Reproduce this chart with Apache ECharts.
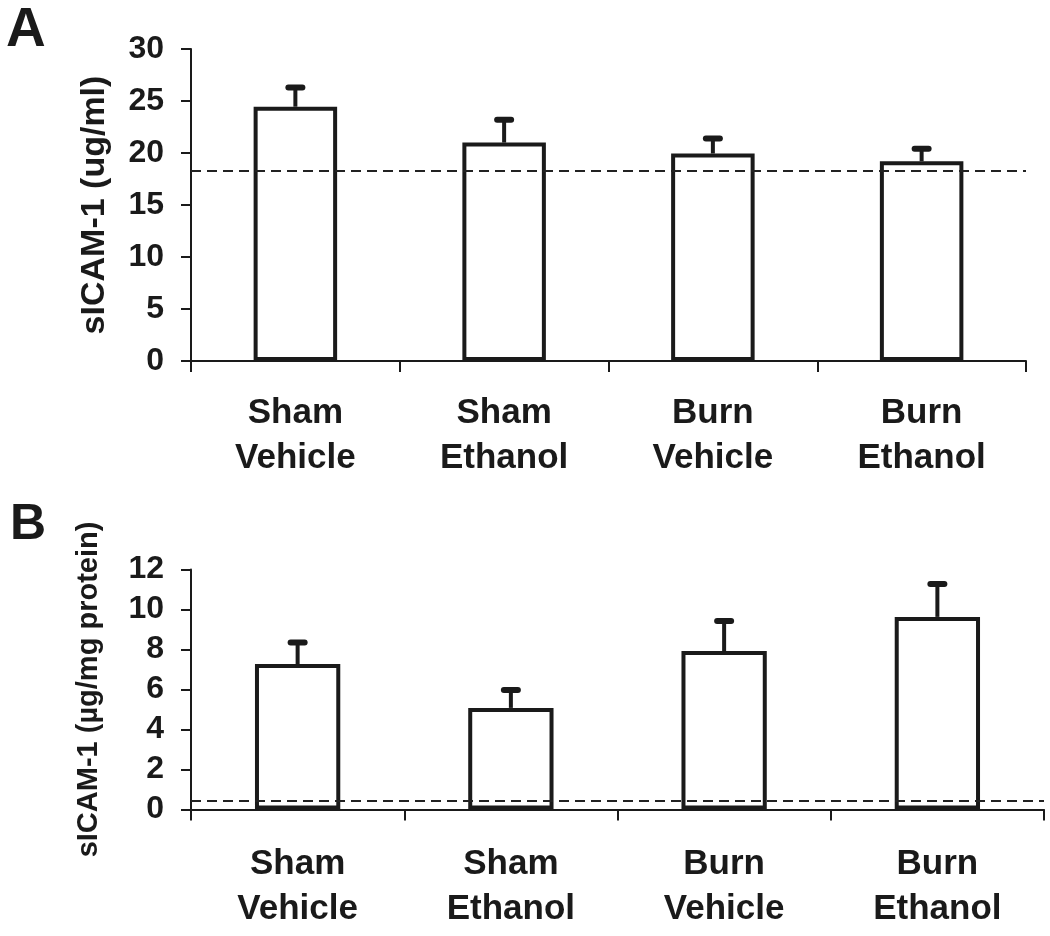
<!DOCTYPE html>
<html>
<head>
<meta charset="utf-8">
<script src="https://cdn.jsdelivr.net/npm/echarts@6/dist/echarts.min.js"></script>
<style>
  html, body { margin: 0; padding: 0; background: #fff; }
  #chart { width: 1050px; height: 936px; }
</style>
</head>
<body>
<div id="chart"></div>
<script>
// ---- Data ----
const categories = ['Sham\nVehicle', 'Sham\nEthanol', 'Burn\nVehicle', 'Burn\nEthanol'];

// Panel A: serum sICAM-1 (ug/ml)
const meanA = [24.45, 21.0, 19.95, 19.2];
const upperA = [26.3, 23.2, 21.4, 20.4];
const refA = 18.3;
const yTicksA = { min: 0, max: 30, interval: 5 };

// Panel B: tissue sICAM-1 (µg/mg protein)
const meanB = [7.27, 5.08, 7.92, 9.63];
const upperB = [8.35, 5.97, 9.43, 11.28];
const refB = 0.42;
const yTicksB = { min: 0, max: 12, interval: 2 };

const panelLetters = ['A', 'B'];
const yNames = ['sICAM-1 (ug/ml)', 'sICAM-1 (µg/mg protein)'];

// ---- Styling ----
const FONT = "'Liberation Sans', Arial, Helvetica, sans-serif";
const INK = '#1a1a1a';

function errData(mean, upper) {
  return mean.map((m, i) => [i, m, upper[i]]);
}

function errSeries(xi, yi, mean, upper) {
  return {
    type: 'custom',
    xAxisIndex: xi, yAxisIndex: yi,
    z: 5,
    encode: { x: 0, y: [1, 2] },
    data: errData(mean, upper),
    renderItem: function (params, api) {
      const x = api.value(0), lo = api.value(1), hi = api.value(2);
      const p0 = api.coord([x, lo]);
      const p1 = api.coord([x, hi]);
      const hw = 7;
      return {
        type: 'group',
        children: [
          { type: 'line', shape: { x1: p0[0], y1: p0[1], x2: p1[0], y2: p1[1] },
            style: { stroke: INK, lineWidth: 4 } },
          { type: 'line', shape: { x1: p1[0] - hw, y1: p1[1], x2: p1[0] + hw, y2: p1[1] },
            style: { stroke: INK, lineWidth: 6, lineCap: 'round' } }
        ]
      };
    }
  };
}

function barSeries(xi, yi, mean, ref) {
  return {
    type: 'bar',
    xAxisIndex: xi, yAxisIndex: yi,
    data: mean,
    barWidth: '40%',
    itemStyle: { color: '#ffffff', borderColor: INK, borderWidth: 4 },
    z: 3,
    markLine: {
      silent: true,
      symbol: 'none',
      label: { show: false },
      lineStyle: { color: '#222', width: 2, type: [10, 6] },
      data: [{ yAxis: ref }]
    }
  };
}

function xAxis(gi, margin) {
  return {
    type: 'category', gridIndex: gi, data: categories,
    axisLine: { lineStyle: { color: INK, width: 2 } },
    axisTick: { show: true, length: 11, lineStyle: { color: INK, width: 2 } },
    axisLabel: { color: INK, fontFamily: FONT, fontWeight: 'bold', fontSize: 35, lineHeight: 45, margin: margin, interval: 0 }
  };
}

function yAxis(gi, t, name, nameSize, nameGap) {
  return {
    type: 'value', gridIndex: gi, min: t.min, max: t.max, interval: t.interval,
    name: name, nameLocation: 'middle', nameRotate: 90, nameGap: nameGap,
    nameTextStyle: { color: INK, fontFamily: FONT, fontWeight: 'bold', fontSize: nameSize },
    splitLine: { show: false },
    axisLine: { show: true, lineStyle: { color: INK, width: 2 } },
    axisTick: { show: true, length: 10, lineStyle: { color: INK, width: 2 } },
    axisLabel: { color: INK, fontFamily: FONT, fontWeight: 'bold', fontSize: 32, margin: 27 }
  };
}

const chart = echarts.init(document.getElementById('chart'), null, { renderer: 'canvas' });
chart.setOption({
  backgroundColor: '#ffffff',
  animation: false,
  title: [
    { text: panelLetters[0], left: 6, top: 3, padding: 0,
      textStyle: { fontFamily: FONT, fontWeight: 'bold', fontSize: 55, color: INK } },
    { text: panelLetters[1], left: 10, top: 500, padding: 0,
      textStyle: { fontFamily: FONT, fontWeight: 'bold', fontSize: 50, color: INK } }
  ],
  grid: [
    { left: 191, top: 49, width: 835, height: 312 },
    { left: 191, top: 569.5, width: 853, height: 240 }
  ],
  xAxis: [xAxis(0, 30), xAxis(1, 32)],
  yAxis: [
    yAxis(0, yTicksA, yNames[0], 34, 79),
    yAxis(1, yTicksB, yNames[1], 29, 88)
  ],
  series: [
    barSeries(0, 0, meanA, refA),
    errSeries(0, 0, meanA, upperA),
    barSeries(1, 1, meanB, refB),
    errSeries(1, 1, meanB, upperB)
  ]
});
</script>
</body>
</html>
